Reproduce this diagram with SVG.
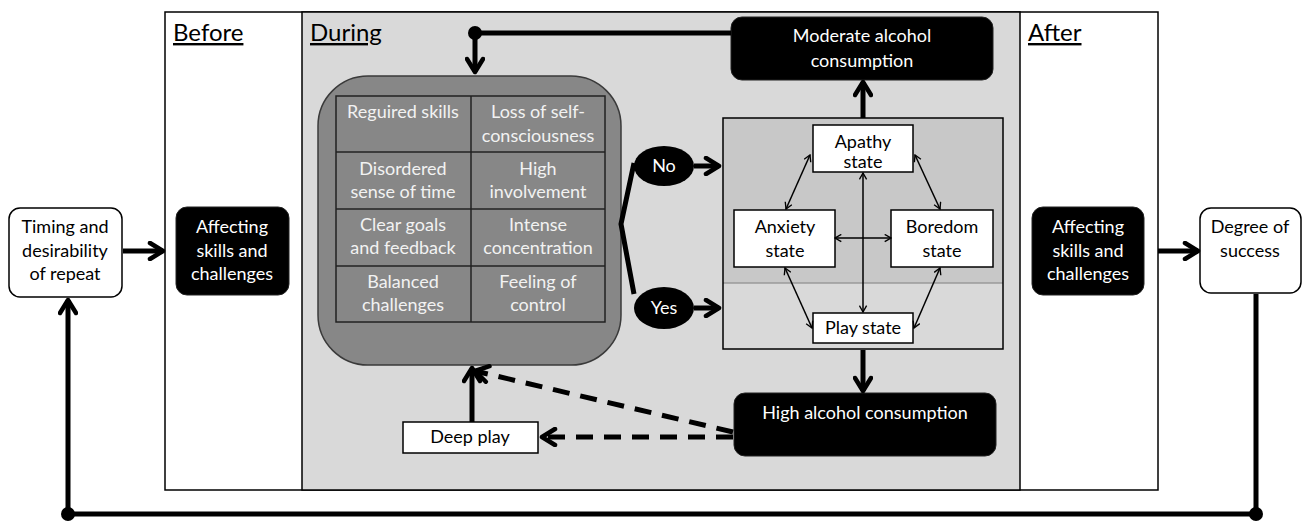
<svg xmlns="http://www.w3.org/2000/svg" width="1312" height="523" viewBox="0 0 1312 523">
<style>
text{font-family:Lato,"Open Sans","Liberation Sans",sans-serif;text-anchor:middle}
.h{font-size:24px;text-anchor:start;text-decoration:underline;fill:#000}
.t{font-size:18px;fill:#000}
.w{font-size:18px;fill:#fff}
.g{font-size:18px;fill:#f2f2f2}
.bk{fill:#000;stroke:#222;stroke-width:1}
.wb{fill:#fff;stroke:#000;stroke-width:1.5}
.thick{stroke:#000;stroke-width:5;fill:none}
.thin{stroke:#000;stroke-width:1.5;fill:none}
.dash{stroke:#000;stroke-width:5;fill:none;stroke-dasharray:17 11}
.cell{fill:none;stroke:#222;stroke-width:1.5}
</style>
<defs>
<marker id="big" viewBox="0 0 20 20" markerWidth="20" markerHeight="20" refX="17" refY="10" orient="auto" markerUnits="userSpaceOnUse">
<path d="M4,2 L17,10 L4,18" fill="none" stroke="#000" stroke-width="4.5" stroke-linecap="round" stroke-linejoin="round"/>
</marker>
<marker id="sm" viewBox="0 0 10 10" markerWidth="9" markerHeight="9" refX="9" refY="5" orient="auto-start-reverse" markerUnits="userSpaceOnUse">
<path d="M2,1 L9,5 L2,9" fill="none" stroke="#000" stroke-width="1.5"/>
</marker>
</defs>
<rect width="1312" height="523" fill="#fff"/>
<g id="frame">
<rect x="165" y="12" width="993" height="478" fill="#fff" stroke="#000" stroke-width="1.5"/>
<rect x="302" y="12" width="718" height="478" fill="#d9d9d9" stroke="#000" stroke-width="1.5"/>
<text class="h" x="173" y="41">Before</text>
<text class="h" x="310" y="41">During</text>
<text class="h" x="1028" y="41">After</text>
</g>
<g id="timing">
<rect class="wb" x="9" y="208" width="113" height="89" rx="11"/>
<text class="t" x="65" y="233">Timing and</text>
<text class="t" x="65" y="257">desirability</text>
<text class="t" x="65" y="280">of repeat</text>
</g>
<g id="affect-before">
<rect class="bk" x="176" y="207" width="113" height="88" rx="11"/>
<text class="w" x="232" y="233">Affecting</text>
<text class="w" x="232" y="257">skills and</text>
<text class="w" x="232" y="280">challenges</text>
</g>
<g id="flow">
<rect x="318" y="76" width="303" height="289" rx="50" fill="#878787" stroke="#3a3a3a" stroke-width="1.5"/>
<rect class="cell" x="336" y="96" width="269" height="226"/>
<line class="cell" x1="471" y1="96" x2="471" y2="322"/>
<line class="cell" x1="336" y1="152" x2="605" y2="152"/>
<line class="cell" x1="336" y1="209" x2="605" y2="209"/>
<line class="cell" x1="336" y1="266" x2="605" y2="266"/>
<text class="g" x="403" y="118">Reguired skills</text>
<text class="g" x="538" y="118">Loss of self-</text>
<text class="g" x="538" y="142">consciousness</text>
<text class="g" x="403" y="175">Disordered</text>
<text class="g" x="403" y="198">sense of time</text>
<text class="g" x="538" y="175">High</text>
<text class="g" x="538" y="198">involvement</text>
<text class="g" x="403" y="231">Clear goals</text>
<text class="g" x="403" y="254">and feedback</text>
<text class="g" x="538" y="231">Intense</text>
<text class="g" x="538" y="254">concentration</text>
<text class="g" x="403" y="288">Balanced</text>
<text class="g" x="403" y="311">challenges</text>
<text class="g" x="538" y="288">Feeling of</text>
<text class="g" x="538" y="311">control</text>
</g>
<g id="no">
<ellipse cx="664" cy="166" rx="30" ry="20" fill="#000"/>
<text class="w" x="664" y="172">No</text>
</g>
<g id="yes">
<ellipse cx="664" cy="308" rx="30" ry="21" fill="#000"/>
<text class="w" x="664" y="314">Yes</text>
</g>
<g id="states">
<rect x="723" y="118" width="280" height="165" fill="#c8c8c8"/>
<rect x="723" y="283" width="280" height="66" fill="#d9d9d9"/>
<line x1="723" y1="283" x2="1003" y2="283" stroke="#9a9a9a" stroke-width="1.5"/>
<rect x="723" y="118" width="280" height="231" fill="none" stroke="#000" stroke-width="1.5"/>
</g>
<g id="apathy">
<rect class="wb" x="813" y="125" width="100" height="47"/>
<text class="t" x="863" y="148">Apathy</text>
<text class="t" x="863" y="168">state</text>
</g>
<g id="anxiety">
<rect class="wb" x="734" y="210" width="101" height="57"/>
<text class="t" x="785" y="233">Anxiety</text>
<text class="t" x="785" y="257">state</text>
</g>
<g id="boredom">
<rect class="wb" x="891" y="210" width="102" height="57"/>
<text class="t" x="942" y="233">Boredom</text>
<text class="t" x="942" y="257">state</text>
</g>
<g id="play">
<rect class="wb" x="813" y="313" width="100" height="30"/>
<text class="t" x="863" y="334">Play state</text>
</g>
<g id="moderate">
<rect class="bk" x="731" y="17" width="262" height="63" rx="11"/>
<text class="w" x="862" y="42">Moderate alcohol</text>
<text class="w" x="862" y="67">consumption</text>
</g>
<g id="high">
<rect class="bk" x="734" y="393" width="262" height="63" rx="11"/>
<text class="w" x="865" y="419">High alcohol consumption</text>
</g>
<g id="deepplay">
<rect class="wb" x="403" y="422" width="135" height="31"/>
<text class="t" x="470" y="443">Deep play</text>
</g>
<g id="affect-after">
<rect class="bk" x="1032" y="207" width="112" height="88" rx="11"/>
<text class="w" x="1088" y="233">Affecting</text>
<text class="w" x="1088" y="257">skills and</text>
<text class="w" x="1088" y="280">challenges</text>
</g>
<g id="degree">
<rect class="wb" x="1200" y="208" width="101" height="85" rx="11"/>
<text class="t" x="1250" y="233">Degree of</text>
<text class="t" x="1250" y="257">success</text>
</g>
<g id="connectors">
<line class="thick" x1="123" y1="251" x2="163" y2="251" marker-end="url(#big)"/>
<line class="thick" x1="1158" y1="251" x2="1198" y2="251" marker-end="url(#big)"/>
<polyline class="thick" points="1256,294 1256,514 68,514 68,300" marker-end="url(#big)" stroke-linejoin="round"/>
<circle cx="1256" cy="514" r="7" fill="#000"/>
<circle cx="68" cy="514" r="7" fill="#000"/>
<polyline class="thick" points="731,33 475,33 475,72" marker-end="url(#big)"/>
<circle cx="475" cy="33" r="7" fill="#000"/>
<polyline class="thick" points="634,163 621,224 634,294" stroke-linejoin="round"/>
<line class="thick" x1="694" y1="166" x2="719" y2="166" marker-end="url(#big)"/>
<line class="thick" x1="694" y1="308" x2="719" y2="308" marker-end="url(#big)"/>
<line class="thick" x1="863" y1="118" x2="863" y2="82" marker-end="url(#big)"/>
<line class="thick" x1="863" y1="350" x2="863" y2="391" marker-end="url(#big)"/>
<line class="thick" x1="472" y1="422" x2="472" y2="368" marker-end="url(#big)"/>
<line class="dash" x1="733" y1="437" x2="542" y2="437" marker-end="url(#big)"/>
<line class="dash" x1="733" y1="432" x2="475" y2="371" marker-end="url(#big)"/>
<line class="thin" x1="835" y1="238" x2="891" y2="238" marker-start="url(#sm)" marker-end="url(#sm)"/>
<line class="thin" x1="863" y1="173" x2="863" y2="312" marker-start="url(#sm)" marker-end="url(#sm)"/>
<line class="thin" x1="810" y1="155" x2="786" y2="209" marker-start="url(#sm)" marker-end="url(#sm)"/>
<line class="thin" x1="915" y1="155" x2="940" y2="209" marker-start="url(#sm)" marker-end="url(#sm)"/>
<line class="thin" x1="785" y1="268" x2="812" y2="328" marker-start="url(#sm)" marker-end="url(#sm)"/>
<line class="thin" x1="940" y1="268" x2="914" y2="328" marker-start="url(#sm)" marker-end="url(#sm)"/>
</g>
</svg>
